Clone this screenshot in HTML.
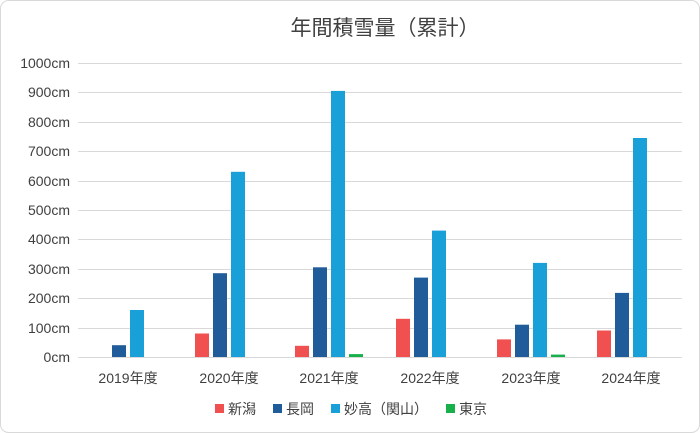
<!DOCTYPE html>
<html><head><meta charset="utf-8"><style>
html,body{margin:0;padding:0;background:#fff;}
svg{display:block;}
text{font-family:"Liberation Sans","Noto Sans CJK JP",sans-serif;fill:#404040;}
</style></head><body>
<svg width="700" height="433" viewBox="0 0 700 433" xmlns="http://www.w3.org/2000/svg">
<rect x="0.5" y="0.5" width="699" height="432" rx="8" fill="#fff" stroke="#d9d9d9"/>
<text x="385" y="35" font-size="21" text-anchor="middle" fill="#404040">年間積雪量（累計）</text>
<g stroke="#d9d9d9" stroke-width="1">
<line x1="78" x2="682" y1="63.5" y2="63.5"/>
<line x1="78" x2="682" y1="92.5" y2="92.5"/>
<line x1="78" x2="682" y1="122.5" y2="122.5"/>
<line x1="78" x2="682" y1="151.5" y2="151.5"/>
<line x1="78" x2="682" y1="181.5" y2="181.5"/>
<line x1="78" x2="682" y1="210.5" y2="210.5"/>
<line x1="78" x2="682" y1="239.5" y2="239.5"/>
<line x1="78" x2="682" y1="269.5" y2="269.5"/>
<line x1="78" x2="682" y1="298.5" y2="298.5"/>
<line x1="78" x2="682" y1="328.5" y2="328.5"/>
<line x1="78" x2="682" y1="357.5" y2="357.5"/>
</g>
<g font-size="14" text-anchor="end">
<text x="70" y="68">1000cm</text>
<text x="70" y="97">900cm</text>
<text x="70" y="127">800cm</text>
<text x="70" y="156">700cm</text>
<text x="70" y="186">600cm</text>
<text x="70" y="215">500cm</text>
<text x="70" y="244">400cm</text>
<text x="70" y="274">300cm</text>
<text x="70" y="303">200cm</text>
<text x="70" y="333">100cm</text>
<text x="70" y="362">0cm</text>
</g>
<g>
<rect x="112" y="345.2" width="14" height="11.8" fill="#1f5c99"/>
<rect x="130" y="310" width="14" height="47" fill="#1aa0d8"/>
<rect x="195" y="333.5" width="14" height="23.5" fill="#f0504f"/>
<rect x="213" y="273.2" width="14" height="83.8" fill="#1f5c99"/>
<rect x="231" y="171.8" width="14" height="185.2" fill="#1aa0d8"/>
<rect x="295" y="345.8" width="14" height="11.2" fill="#f0504f"/>
<rect x="313" y="267.3" width="14" height="89.7" fill="#1f5c99"/>
<rect x="331" y="90.9" width="14" height="266.1" fill="#1aa0d8"/>
<rect x="349" y="354.1" width="14" height="2.9" fill="#17b04a"/>
<rect x="396" y="318.8" width="14" height="38.2" fill="#f0504f"/>
<rect x="414" y="277.6" width="14" height="79.4" fill="#1f5c99"/>
<rect x="432" y="230.6" width="14" height="126.4" fill="#1aa0d8"/>
<rect x="497" y="339.4" width="14" height="17.6" fill="#f0504f"/>
<rect x="515" y="324.7" width="14" height="32.3" fill="#1f5c99"/>
<rect x="533" y="262.9" width="14" height="94.1" fill="#1aa0d8"/>
<rect x="551" y="354.6" width="14" height="2.4" fill="#17b04a"/>
<rect x="597" y="330.5" width="14" height="26.5" fill="#f0504f"/>
<rect x="615" y="292.9" width="14" height="64.1" fill="#1f5c99"/>
<rect x="633" y="138" width="14" height="219" fill="#1aa0d8"/>
</g>
<g font-size="14" text-anchor="middle">
<text x="128" y="383">2019年度</text>
<text x="229" y="383">2020年度</text>
<text x="329" y="383">2021年度</text>
<text x="430" y="383">2022年度</text>
<text x="531" y="383">2023年度</text>
<text x="631" y="383">2024年度</text>
</g>
<g font-size="14">
<rect x="215" y="404" width="9" height="9" fill="#f0504f"/><text x="228" y="414">新潟</text>
<rect x="273" y="404" width="9" height="9" fill="#1f5c99"/><text x="286" y="414">長岡</text>
<rect x="331" y="404" width="9" height="9" fill="#1aa0d8"/><text x="344" y="414">妙高（関山）</text>
<rect x="446" y="404" width="9" height="9" fill="#17b04a"/><text x="459" y="414">東京</text>
</g>
</svg>
</body></html>
